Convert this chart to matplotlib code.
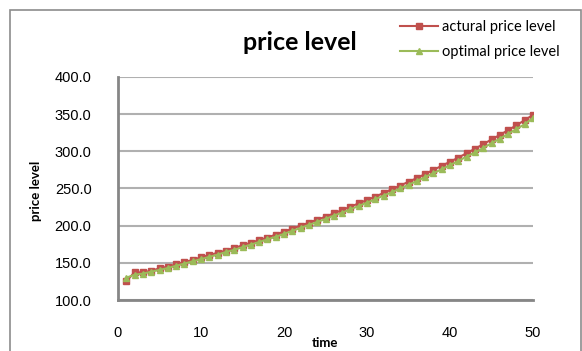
import matplotlib
matplotlib.use("Agg")
import matplotlib.pyplot as plt
from matplotlib.patches import Rectangle

# time periods 1..50
time = list(range(1, 51))

actual = [125.0, 137.5, 137.0, 139.5, 142.5, 145.0, 148.0, 151.0, 154.0, 157.5,
          160.5, 163.5, 166.5, 170.0, 173.5, 177.0, 180.5, 184.0, 188.0, 192.0,
          196.0, 200.0, 204.0, 208.0, 212.0, 216.5, 221.0, 225.5, 230.0, 234.5,
          239.0, 244.0, 249.0, 254.0, 259.0, 264.0, 269.5, 275.0, 280.5, 286.0,
          291.5, 297.5, 303.5, 309.5, 316.0, 322.0, 328.5, 335.0, 342.0, 349.0]

optimal = [130.0, 134.0, 135.5, 138.0, 140.5, 143.0, 146.0, 149.0, 152.0, 155.0,
           158.0, 161.0, 164.5, 167.5, 171.0, 174.5, 178.0, 181.5, 185.0, 189.0,
           193.0, 197.0, 201.0, 205.0, 209.0, 213.5, 217.5, 222.0, 226.5, 231.0,
           235.5, 240.5, 245.0, 250.0, 255.0, 260.0, 265.5, 270.5, 276.0, 281.5,
           287.0, 293.0, 298.5, 304.5, 311.0, 317.0, 323.5, 330.0, 336.5, 345.0]

yticks = [100, 150, 200, 250, 300, 350, 400]
xticks = [0, 10, 20, 30, 40, 50]

W, H = 582, 351
fig = plt.figure(figsize=(W / 100, H / 100), dpi=100)
fig.patch.set_facecolor("white")

# outer chart border
fig.patches.append(Rectangle((10 / W, -0.05), (581 - 10) / W, 1.05 - 10 / H,
                             transform=fig.transFigure, fill=False,
                             edgecolor="#8c8c8c", linewidth=1.2))

ax = fig.add_axes([118 / W, 1 - 300 / H, (533 - 118) / W, (300 - 77) / H])

red = "#c0504d"
green = "#9bbb59"
ax.plot(time, actual, color=red, linewidth=1.5, marker="s", markersize=5,
        markeredgecolor=red, markerfacecolor=red, label="actural price level")
ax.plot(time, optimal, color=green, linewidth=1.5, marker="^", markersize=5,
        markeredgecolor=green, markerfacecolor=green, label="optimal price level")

ax.set_xlim(0, 50)
ax.set_ylim(100, 400)
ax.set_xticks(xticks)
ax.set_yticks(yticks)
ax.set_yticklabels([f"{v:.1f}" for v in yticks])
ax.yaxis.grid(True, color="#b0b0b0", linewidth=1.5)
ax.set_axisbelow(True)

for s in ["top", "right"]:
    ax.spines[s].set_visible(False)
for s in ["left", "bottom"]:
    ax.spines[s].set_color("#868686")
    ax.spines[s].set_linewidth(2)

ax.tick_params(length=0, labelsize=10.5)
ax.tick_params(axis="y", pad=19)
ax.tick_params(axis="x", pad=19)
for lab in ax.get_xticklabels() + ax.get_yticklabels():
    lab.set_fontfamily("Liberation Sans")

ax.set_ylabel("price level", fontfamily="Lato", fontweight="bold", fontsize=9.5)
ax.yaxis.set_label_coords(-(118 - 42) / (533 - 118), 0.49)
ax.set_xlabel("time", fontfamily="Lato", fontweight="bold", fontsize=9.5)
ax.xaxis.label.set_va("bottom")
ax.xaxis.set_label_coords((325 - 118) / (533 - 118), -(349 - 300) / (300 - 77))

fig.text(300 / W, 1 - 42 / H, "price level", ha="center", va="center",
         fontfamily="Lato", fontweight="bold", fontsize=18)

leg = fig.legend(loc="upper left", bbox_to_anchor=(400 / W, 1 - 20 / H),
                 frameon=False, prop={"family": "Lato", "size": 10.5},
                 handlelength=2.6, handletextpad=0.3, labelspacing=0.75,
                 borderaxespad=0, borderpad=0)

fig.savefig("out.png", dpi=100)
